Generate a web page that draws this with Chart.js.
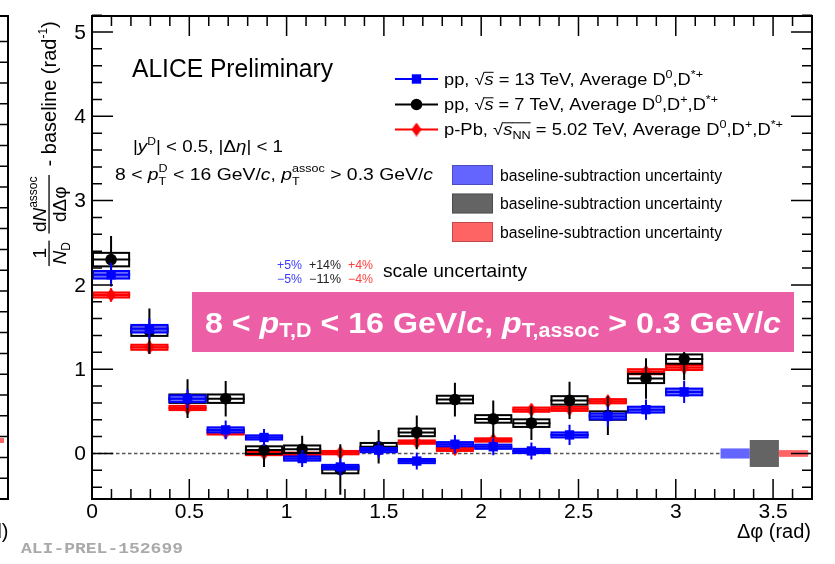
<!DOCTYPE html>
<html>
<head>
<meta charset="utf-8">
<script src="https://cdn.jsdelivr.net/npm/chart.js@4.4.0/dist/chart.umd.min.js"></script>
<style>
  html, body { margin: 0; padding: 0; background: #fff; }
  #wrap { width: 835px; height: 564px; }
</style>
</head>
<body>
<div id="wrap"><canvas id="corr" width="835" height="564"></canvas></div>
<script>
// Δφ bin centres (16 bins of π/16) and half width of a bin
const binCenters = [0.098, 0.295, 0.491, 0.687, 0.884, 1.080, 1.276, 1.473, 1.669, 1.865, 2.062, 2.258, 2.454, 2.651, 2.847, 3.043];
const binHalfWidth = 0.098;

// pp, sqrt(s) = 13 TeV, average D0, D*+
const pp13 = [2.12, 1.48, 0.65, 0.28, 0.19, -0.06, -0.16, 0.04, -0.09, 0.11, 0.08, 0.03, 0.22, 0.44, 0.52, 0.73];
const pp13Stat = [0.14, 0.12, 0.11, 0.11, 0.10, 0.10, 0.10, 0.10, 0.10, 0.11, 0.10, 0.10, 0.12, 0.12, 0.12, 0.13];
const pp13Syst = [0.045, 0.045, 0.04, 0.03, 0.025, 0.025, 0.025, 0.025, 0.025, 0.025, 0.025, 0.025, 0.03, 0.035, 0.035, 0.04];

// pp, sqrt(s) = 7 TeV, average D0, D+, D*+
const pp7 = [2.30, 1.45, 0.65, 0.65, 0.04, 0.05, -0.19, 0.08, 0.25, 0.64, 0.41, 0.36, 0.63, 0.45, 0.89, 1.12];
const pp7Stat = [0.28, 0.27, 0.23, 0.21, 0.20, 0.16, 0.30, 0.20, 0.20, 0.20, 0.22, 0.20, 0.22, 0.23, 0.24, 0.25];
const pp7Syst = [0.08, 0.055, 0.05, 0.05, 0.045, 0.045, 0.045, 0.045, 0.045, 0.045, 0.045, 0.045, 0.05, 0.05, 0.055, 0.055];

// p-Pb, sqrt(sNN) = 5.02 TeV, average D0, D+, D*+
const pPb = [1.88, 1.26, 0.54, 0.25, 0.0, -0.01, 0.01, 0.04, 0.135, 0.05, 0.16, 0.52, 0.53, 0.62, 0.97, 1.02];
const pPbStat = [0.08, 0.07, 0.07, 0.07, 0.07, 0.06, 0.06, 0.06, 0.06, 0.06, 0.06, 0.07, 0.07, 0.07, 0.08, 0.08];
const pPbSyst = [0.03, 0.03, 0.025, 0.025, 0.02, 0.02, 0.02, 0.02, 0.02, 0.02, 0.02, 0.025, 0.025, 0.025, 0.03, 0.03];

// baseline-subtraction uncertainty (pp13, pp7, p-Pb), shown as bands at Δφ > 3.2
const baselineUnc = [0.06, 0.16, 0.04];
const baselineEdges = [3.23, 3.38, 3.53, 3.68];
const baselineColors = ['#6464ff', '#646464', '#ff6464'];

// scale uncertainties
const scaleUp = ['+5%', '+14%', '+4%'];
const scaleDown = ['\u22125%', '\u221211%', '\u22124%'];
const scaleColors = ['#3c3cff', '#222222', '#ff3c3c'];

// axis ticks
const xMajorTicks = [0, 0.5, 1, 1.5, 2, 2.5, 3, 3.5];
const yMajorTicks = [0, 1, 2, 3, 4, 5];

const FONT = '"Liberation Sans", Arial, Helvetica, sans-serif';

// tall diamond marker for p-Pb
const diamond = document.createElement('canvas');
diamond.width = 10; diamond.height = 14;
(function () {
  const d = diamond.getContext('2d');
  d.fillStyle = '#ff0000';
  d.beginPath();
  d.moveTo(5, 0); d.lineTo(10, 7); d.lineTo(5, 14); d.lineTo(0, 7);
  d.closePath(); d.fill();
})();

function pts(vals) {
  return vals.map((v, i) => ({ x: binCenters[i], y: v }));
}

// --- small rich text helper: runs of text with size / italic / offsets ---
function T(t, s, extra) { return Object.assign({ t: t, s: s }, extra || {}); }
function fontStr(r) {
  return (r.i ? 'italic ' : '') + (r.b ? 'bold ' : '') + r.s + 'px ' + (r.f || FONT);
}
function runsWidth(ctx, runs) {
  let w = 0, held = 0;
  for (const r of runs) {
    ctx.font = fontStr(r);
    const rw = ctx.measureText(r.t).width;
    if (r.keep) { held = Math.max(held, rw); continue; }
    w += Math.max(rw, held); held = 0;
  }
  return w;
}
function drawRuns(ctx, x, y, runs, color, fitWidth) {
  const natural = runsWidth(ctx, runs);
  const k = fitWidth ? fitWidth / natural : 1;
  ctx.save();
  ctx.translate(x, y);
  ctx.scale(k, 1);
  ctx.textAlign = 'left';
  ctx.textBaseline = 'alphabetic';
  let cx = 0, held = 0;
  for (const r of runs) {
    ctx.font = fontStr(r);
    ctx.fillStyle = r.c || color;
    const rw = ctx.measureText(r.t).width;
    ctx.fillText(r.t, cx, r.dy || 0);
    if (r.over) ctx.fillRect(cx - 0.5, -r.over, rw + 0.5, 1);
    if (r.keep) { held = Math.max(held, rw); continue; }
    cx += Math.max(rw, held); held = 0;
  }
  ctx.restore();
  return natural * k;
}
function fraction(ctx, u, num, den, barV, capH) {
  const nw = runsWidth(ctx, num), dw = runsWidth(ctx, den);
  const w = Math.max(nw, dw) + 3;
  ctx.fillRect(u, barV - 0.6, w, 1.3);
  drawRuns(ctx, u + (w - nw) / 2, barV - 3, num, '#000');
  drawRuns(ctx, u + (w - dw) / 2, barV + 3 + capH, den, '#000');
  return w;
}

function marker(ctx, kind, x, y) {
  if (kind === 'rect') {
    ctx.fillStyle = '#0000ff';
    ctx.fillRect(x - 4.7, y - 4.7, 9.4, 9.4);
  } else if (kind === 'circle') {
    ctx.fillStyle = '#000';
    ctx.beginPath(); ctx.arc(x, y, 5.8, 0, Math.PI * 2); ctx.fill();
  } else {
    ctx.drawImage(diamond, x - 5, y - 7);
  }
}

const rootStyle = {
  id: 'rootStyle',
  beforeDatasetsDraw(chart) {
    const { ctx, chartArea: a, scales: { x, y } } = chart;
    ctx.save();
    // dashed zero line
    const y0 = y.getPixelForValue(0);
    ctx.strokeStyle = '#555';
    ctx.lineWidth = 1.5;
    ctx.setLineDash([3.5, 2.5]);
    ctx.beginPath(); ctx.moveTo(a.left, y0); ctx.lineTo(a.right, y0); ctx.stroke();
    ctx.setLineDash([]);
    // baseline-subtraction uncertainty bands
    baselineUnc.forEach((u, i) => {
      const x0 = x.getPixelForValue(baselineEdges[i]);
      const x1 = x.getPixelForValue(baselineEdges[i + 1]);
      const yt = y.getPixelForValue(u), yb = y.getPixelForValue(-u);
      ctx.fillStyle = baselineColors[i];
      ctx.fillRect(x0, yt, x1 - x0, yb - yt);
    });
    ctx.restore();
  },
  beforeDatasetDraw(chart, args) {
    const ds = chart.data.datasets[args.index];
    const { ctx, chartArea: a, scales: { x, y } } = chart;
    ctx.save();
    ctx.beginPath(); ctx.rect(a.left, a.top, a.right - a.left, a.bottom - a.top); ctx.clip();
    ctx.strokeStyle = ds.errColor;
    ctx.lineWidth = 2;
    ds.data.forEach((p, k) => {
      const x0 = x.getPixelForValue(p.x - binHalfWidth);
      const x1 = x.getPixelForValue(p.x + binHalfWidth);
      const xc = x.getPixelForValue(p.x);
      const yc = y.getPixelForValue(p.y);
      const sHi = y.getPixelForValue(p.y + ds.syst[k]);
      const sLo = y.getPixelForValue(p.y - ds.syst[k]);
      // systematic box
      if (ds.boxFill) {
        ctx.fillStyle = ds.boxFill;
        ctx.fillRect(x0 + 1, sHi, x1 - x0 - 2, sLo - sHi);
      }
      ctx.strokeRect(x0 + 1, sHi, x1 - x0 - 2, sLo - sHi);
      ctx.beginPath();
      // bin width
      ctx.moveTo(x0, yc); ctx.lineTo(x1, yc);
      // statistical error
      ctx.moveTo(xc, y.getPixelForValue(p.y + ds.stat[k]));
      ctx.lineTo(xc, y.getPixelForValue(p.y - ds.stat[k]));
      ctx.stroke();
    });
    ctx.restore();
  },
  afterDraw(chart) {
    const { ctx, chartArea: a, scales: { x, y } } = chart;
    ctx.save();

    // pink banner
    ctx.fillStyle = '#ec5fa6';
    ctx.fillRect(192, 292, 602, 60);
    const B = 30, b = 20;
    drawRuns(ctx, 205, 333, [
      T('8 < ', B, { b: true }), T('p', B, { b: true, i: true }), T('T,D', b, { b: true, dy: 4 }),
      T(' < 16 GeV/', B, { b: true }), T('c', B, { b: true, i: true }), T(', ', B, { b: true }),
      T('p', B, { b: true, i: true }), T('T,assoc', b, { b: true, dy: 4 }),
      T(' > 0.3 GeV/', B, { b: true }), T('c', B, { b: true, i: true })
    ], '#fff', 576);

    // frame
    ctx.strokeStyle = '#000';
    ctx.lineWidth = 2;
    ctx.strokeRect(a.left, a.top, a.right - a.left, a.bottom - a.top);

    // ticks pointing inwards, on all four sides
    ctx.lineWidth = 1.5;
    ctx.beginPath();
    for (let v = 0; v <= 3.7 + 1e-6; v += 0.1) {
      const vv = Math.round(v * 10) / 10;
      const px = x.getPixelForValue(vv);
      const len = xMajorTicks.includes(vv) ? 20 : 10;
      ctx.moveTo(px, a.bottom); ctx.lineTo(px, a.bottom - len);
      ctx.moveTo(px, a.top); ctx.lineTo(px, a.top + len);
    }
    for (let v = -0.4; v <= 5.2 + 1e-6; v += 0.2) {
      const vv = Math.round(v * 10) / 10;
      const py = y.getPixelForValue(vv);
      const len = yMajorTicks.includes(vv) ? 21 : 10;
      ctx.moveTo(a.left, py); ctx.lineTo(a.left + len, py);
      ctx.moveTo(a.right, py); ctx.lineTo(a.right - len, py);
    }
    ctx.stroke();

    // tick labels
    ctx.fillStyle = '#000';
    ctx.font = '21px ' + FONT;
    ctx.textAlign = 'center';
    ctx.textBaseline = 'middle';
    xMajorTicks.forEach(v => ctx.fillText(String(v), x.getPixelForValue(v), 512));
    ctx.textAlign = 'right';
    yMajorTicks.forEach(v => ctx.fillText(String(v), 86, y.getPixelForValue(v) + 1));

    // x title
    ctx.textAlign = 'right';
    ctx.textBaseline = 'alphabetic';
    ctx.font = '20px ' + FONT;
    ctx.fillText('\u0394\u03c6 (rad)', 811, 538);

    // y title, rotated
    ctx.save();
    ctx.translate(56, 266);
    ctx.rotate(-Math.PI / 2);
    ctx.fillStyle = '#000';
    let u = 0;
    u += fraction(ctx, u, [T('1', 19)], [T('N', 19, { i: true }), T('D', 12, { dy: 4 })], -7, 14);
    u += 7;
    u += fraction(ctx, u, [T('d', 19), T('N', 19, { i: true }), T('assoc', 12, { dy: -9 })],
      [T('d\u0394\u03c6', 19)], -7, 14);
    drawRuns(ctx, u + 3, 0, [T(' - baseline (rad', 20), T('-1', 12, { dy: -9 }), T(')', 20)], '#000');
    ctx.restore();

    // headline texts
    drawRuns(ctx, 132, 76.5, [T('ALICE Preliminary', 25)], '#000', 201);
    drawRuns(ctx, 133, 152, [
      T('|', 17), T('y', 17, { i: true }), T('D', 11, { dy: -7 }), T('| < 0.5, |\u0394', 17),
      T('\u03b7', 17, { i: true }), T('| < 1', 17)
    ], '#000', 150);
    drawRuns(ctx, 115, 180, [
      T('8 < ', 17), T('p', 17, { i: true }), T('T', 11, { dy: 5, keep: true }), T('D', 11, { dy: -8 }),
      T(' < 16 GeV/', 17), T('c', 17, { i: true }), T(', ', 17),
      T('p', 17, { i: true }), T('T', 11, { dy: 5, keep: true }), T('assoc', 11, { dy: -8 }),
      T(' > 0.3 GeV/', 17), T('c', 17, { i: true })
    ], '#000', 318);

    // legend
    const L = 16, S = 11;
    const legendRows = [
      { color: '#0000ff', kind: 'rect', y: 79, w: 259, runs: [
        T('pp, \u221a', L), T('s', L, { i: true, over: 13 }), T(' = 13 TeV, Average D', L),
        T('0', S, { dy: -7 }), T(',D', L), T('*+', S, { dy: -7 })] },
      { color: '#000000', kind: 'circle', y: 104.5, w: 274, runs: [
        T('pp, \u221a', L), T('s', L, { i: true, over: 13 }), T(' = 7 TeV, Average D', L),
        T('0', S, { dy: -7 }), T(',D', L), T('+', S, { dy: -7 }), T(',D', L), T('*+', S, { dy: -7 })] },
      { color: '#ff0000', kind: 'diamond', y: 129.5, w: 339, runs: [
        T('p-Pb, \u221a', L), T('s', L, { i: true, over: 13 }), T('NN', S, { dy: 4, over: 13 }),
        T(' = 5.02 TeV, Average D', L), T('0', S, { dy: -7 }), T(',D', L), T('+', S, { dy: -7 }),
        T(',D', L), T('*+', S, { dy: -7 })] }
    ];
    legendRows.forEach(r => {
      ctx.strokeStyle = r.color;
      ctx.lineWidth = 2;
      ctx.beginPath(); ctx.moveTo(395, r.y); ctx.lineTo(438, r.y); ctx.stroke();
      marker(ctx, r.kind, 416.5, r.y);
      drawRuns(ctx, 444, r.y + 5.8, r.runs, '#000', r.w);
    });

    // baseline legend boxes
    baselineColors.forEach((c, i) => {
      const by = 165 + i * 28.5;
      ctx.fillStyle = c;
      ctx.fillRect(452, by, 41, 20);
      ctx.strokeStyle = 'rgba(0,0,0,0.25)';
      ctx.lineWidth = 1;
      ctx.strokeRect(452.5, by + 0.5, 40, 19);
      drawRuns(ctx, 500, by + 15.5, [T('baseline-subtraction uncertainty', 16)], '#000', 222);
    });

    // scale uncertainty
    const sx = [277, 309, 348], sw = [25, 32, 25];
    scaleUp.forEach((t, i) => {
      drawRuns(ctx, sx[i], 268.5, [T(t, 12)], scaleColors[i], sw[i]);
      drawRuns(ctx, sx[i], 282.5, [T(scaleDown[i], 12)], scaleColors[i], sw[i]);
    });
    drawRuns(ctx, 383, 277, [T('scale uncertainty', 19)], '#000', 144);

    // preliminary figure id
    drawRuns(ctx, 21, 553, [T('ALI-PREL-152699', 15, { b: true, f: '"Liberation Mono", "DejaVu Sans Mono", monospace' })], '#aaaaaa', 162);

    // right edge of the neighbouring panel
    ctx.strokeStyle = '#000';
    ctx.lineWidth = 2;
    ctx.beginPath();
    ctx.moveTo(0, a.top); ctx.lineTo(8, a.top); ctx.lineTo(8, a.bottom); ctx.lineTo(0, a.bottom);
    ctx.stroke();
    ctx.lineWidth = 1.5;
    ctx.beginPath();
    for (let py = a.bottom - 20.8; py > a.top + 5; py -= 20.8) {
      ctx.moveTo(0, py); ctx.lineTo(8, py);
    }
    ctx.stroke();
    ctx.fillStyle = '#ff6464';
    ctx.fillRect(0, 438, 4, 5);
    ctx.fillStyle = '#000';
    ctx.font = '20px ' + FONT;
    ctx.textAlign = 'right';
    ctx.fillText('(rad)', 8.5, 538);

    ctx.restore();
  }
};

new Chart(document.getElementById('corr').getContext('2d'), {
  type: 'scatter',
  data: {
    datasets: [
      { label: 'pp 13 TeV', data: pts(pp13), stat: pp13Stat, syst: pp13Syst, errColor: '#0000ff',
        boxFill: 'rgba(90,90,255,0.9)',
        pointStyle: 'rect', pointRadius: 6.6, backgroundColor: '#0000ff', borderWidth: 0 },
      { label: 'pp 7 TeV', data: pts(pp7), stat: pp7Stat, syst: pp7Syst, errColor: '#000000',
        pointStyle: 'circle', pointRadius: 5.8, backgroundColor: '#000000', borderWidth: 0 },
      { label: 'p-Pb 5.02 TeV', data: pts(pPb), stat: pPbStat, syst: pPbSyst, errColor: '#ff0000',
        boxFill: 'rgba(255,90,90,0.9)',
        pointStyle: diamond, pointRadius: 7, backgroundColor: '#ff0000', borderWidth: 0 }
    ]
  },
  options: {
    responsive: false,
    animation: false,
    devicePixelRatio: 1,
    layout: { padding: { left: 92, right: 23, top: 16, bottom: 65 } },
    scales: {
      x: { type: 'linear', min: 0, max: 3.7, display: false },
      y: { type: 'linear', min: -0.54, max: 5.19, display: false }
    },
    plugins: { legend: { display: false }, tooltip: { enabled: false } }
  },
  plugins: [rootStyle]
});
</script>
</body>
</html>
